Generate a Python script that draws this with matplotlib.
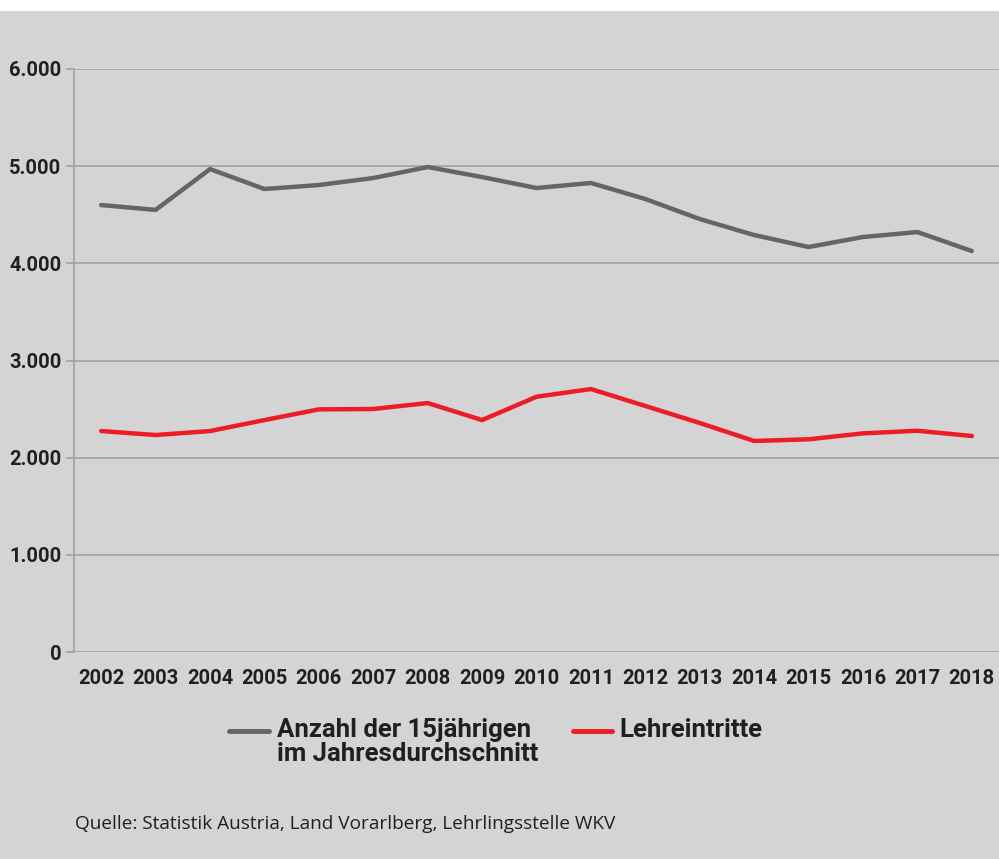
import matplotlib.pyplot as plt
from matplotlib.lines import Line2D
from matplotlib.patches import Rectangle

years = [2002, 2003, 2004, 2005, 2006, 2007, 2008, 2009, 2010,
         2011, 2012, 2013, 2014, 2015, 2016, 2017, 2018]
anzahl_15j = [4600, 4550, 4970, 4765, 4806, 4878, 4991, 4888, 4775,
              4827, 4662, 4456, 4291, 4168, 4271, 4322, 4127]
lehreintritte = [2274, 2233, 2274, 2387, 2497, 2501, 2562, 2387, 2627,
                 2706, 2532, 2357, 2172, 2189, 2250, 2277, 2223]
y_ticks = [0, 1000, 2000, 3000, 4000, 5000, 6000]
y_labels = ["0", "1.000", "2.000", "3.000", "4.000", "5.000", "6.000"]

BG = "#d4d4d4"
GRID = "#a2a2a2"
GRAY = "#656565"
RED = "#ee1c25"
TXT = "#231f20"

plt.rcParams["font.family"] = ["Roboto", "DejaVu Sans"]

W, H = 999, 859


def fx(px):
    return px / W


def fy(py):
    return 1 - py / H


fig = plt.figure(figsize=(9.99, 8.59), dpi=100, facecolor=BG)
ax = fig.add_axes([fx(74), fy(652), 1 - fx(74), (652 - 69) / H])
ax.set_facecolor(BG)

ax.plot(years, anzahl_15j, color=GRAY, lw=3.2, solid_capstyle="round",
        solid_joinstyle="miter")
ax.plot(years, lehreintritte, color=RED, lw=3.2, solid_capstyle="round",
        solid_joinstyle="miter")

ax.set_xlim(2001.5, 2018.5)
ax.set_ylim(0, 6000)
ax.set_yticks(y_ticks)
ax.set_yticklabels(y_labels, fontsize=14.5, fontweight="bold", color=TXT)
ax.set_xticks(years)
ax.set_xticklabels([str(y) for y in years], fontsize=14.5,
                   fontweight="bold", color=TXT)
ax.tick_params(axis="y", length=6, width=1.2, color=GRID, pad=3)
ax.tick_params(axis="x", length=0, pad=12.5)
ax.grid(axis="y", color=GRID, lw=1.2)
ax.set_axisbelow(True)
for s in ["top", "right", "bottom"]:
    ax.spines[s].set_visible(False)
ax.spines["left"].set_color(GRID)
ax.spines["left"].set_linewidth(1.2)

# legend drawn by hand
ly = fy(731)
fig.add_artist(Line2D([fx(229), fx(269)], [ly, ly], color=GRAY, lw=3.5,
                      solid_capstyle="round", transform=fig.transFigure))
fig.text(fx(277), fy(737), "Anzahl der 15jährigen", fontsize=18.5,
         fontweight="bold", color=TXT, va="baseline", ha="left")
fig.text(fx(277), fy(761), "im Jahresdurchschnitt", fontsize=18.5,
         fontweight="bold", color=TXT, va="baseline", ha="left")
fig.add_artist(Line2D([fx(573), fx(612)], [ly, ly], color=RED, lw=3.5,
                      solid_capstyle="round", transform=fig.transFigure))
fig.text(fx(619), fy(737), "Lehreintritte", fontsize=18.5,
         fontweight="bold", color=TXT, va="baseline", ha="left")

fig.text(fx(75), fy(829),
         "Quelle: Statistik Austria, Land Vorarlberg, Lehrlingsstelle WKV",
         fontsize=13.7, color=TXT, va="baseline", ha="left", family="Open Sans")

# white strip along the top edge
fig.add_artist(Rectangle((0, fy(11)), 1, 11 / H, color="white",
                         transform=fig.transFigure, lw=0))

fig.savefig("out.png", dpi=100, facecolor=BG)
